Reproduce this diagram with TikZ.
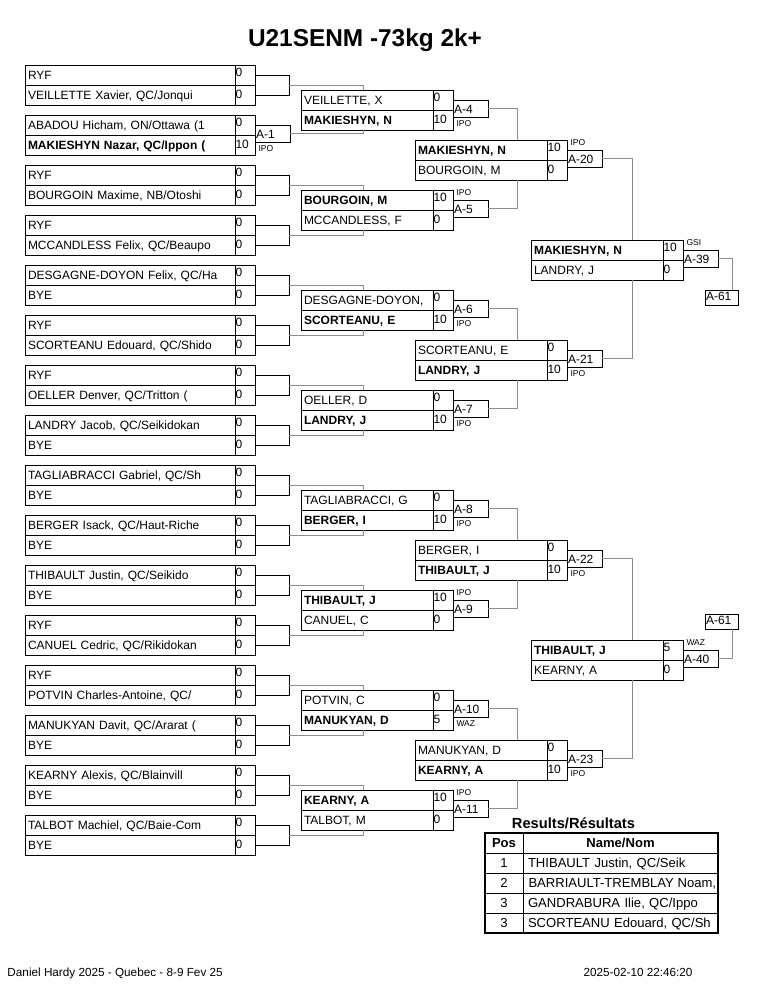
\documentclass[tikz,border=0pt]{standalone}
\usepackage{fontspec}
\setmainfont{Liberation Sans}
\usetikzlibrary{calc,shadows}
\definecolor{conncol}{HTML}{8C8C8C}
\definecolor{shadcol}{HTML}{A8A8A8}
\newcommand\fN{\fontsize{9}{10}\selectfont}
\newcommand\fR{\fontsize{6.4}{7}\selectfont}
\newcommand\fT{\fontsize{9.8}{11}\selectfont}
\newcommand\fF{\fontsize{8.8}{10}\selectfont}
% id, x, y, text width, nameA, scoreA, nameB, scoreB
\newcommand\bxMatch[8]{%
  \node[namecell, text width=#4] (n#1a) at (#2,#3) {#5};
  \node[scorea] (s#1a) at (n#1a.north east) {#6};
  \node[namecell, text width=#4] (n#1b) at (n#1a.south west) {#7};
  \node[scoreb] (s#1b) at (n#1b.north east) {#8};
}
\newcommand\bxBrk[1]{%
  \draw[brk] (s#1a.east) -- ++(34,0) |- (s#1b.east);
  \coordinate (B#1) at ($(s#1a.south east)+(34,0)$);
}
\newcommand\bxLblT[3]{%
  \node[lblbox] (L#1) at ([yshift=7.125pt]s#1a.south east) {#2};
  \node[restxt] (R#1) at ([xshift=2.25pt,yshift=3.75pt]L#1.north west) {#3};
}
\newcommand\bxLblB[3]{%
  \node[lblbox] (L#1) at ([yshift=7.125pt]s#1a.south east) {#2};
  \node[restxt] (R#1) at ([xshift=2.25pt,yshift=-7.3pt]L#1.south west) {#3};
}
\newcommand\bxLinkT[3]{\draw[conn] (#1) -| ($(n#2a.north west)+(#3,0)$);}
\newcommand\bxLinkB[3]{\draw[conn] (#1) -| ($(n#2b.south west)+(#3,0)$);}
\begin{document}
\begin{tikzpicture}[x=0.75pt,y=-0.75pt,
  line width=0.75pt,
  namecell/.style={draw, rectangle, anchor=north west, inner xsep=2.25pt, inner ysep=0pt, outer sep=0pt, align=left, text height=10.875pt, text depth=4.125pt, font=\fN},
  scorea/.style={draw, rectangle, anchor=north west, inner xsep=0.375pt, inner ysep=0pt, outer sep=0pt, text width=14.25pt, align=left, text height=8.25pt, text depth=6.75pt, font=\fN},
  scoreb/.style={scorea, text height=10.125pt, text depth=4.875pt},
  lblbox/.style={draw, fill=white, rectangle, anchor=north west, inner xsep=0.75pt, inner ysep=0pt, outer sep=0pt, text width=24.75pt, align=left, text height=9.5pt, text depth=2.875pt, font=\fN, drop shadow={shadow xshift=1.1pt, shadow yshift=-1.1pt, fill=shadcol, opacity=1}},
  finbox/.style={lblbox, text width=23.25pt, text height=8pt, text depth=3.25pt},
  restxt/.style={anchor=base west, inner sep=0pt, font=\fR},
  brk/.style={draw=black, line width=0.75pt},
  conn/.style={draw=conncol, line width=0.75pt},
  tpos/.style={draw, rectangle, anchor=north west, inner xsep=0pt, inner ysep=0pt, outer sep=0pt, text width=28.5pt, align=center, text height=10.875pt, text depth=4.125pt, font=\fT},
  tname/.style={draw, rectangle, anchor=north west, inner xsep=3.75pt, inner ysep=0pt, outer sep=0pt, text width=138.75pt, align=left, text height=10.875pt, text depth=4.125pt, font=\fT}
]
\useasboundingbox (0,0) rectangle (765,990);

% Title
\node[anchor=base, inner sep=0pt, font=\fontsize{18.3}{20}\selectfont\bfseries] (title) at (365,46) {U21SENM -73kg 2k+};

% ---------- Column 1 ----------
\bxMatch{p0}{25}{65}{153pt}{RYF}{0}{VEILLETTE Xavier, QC/Jonqui}{0}
\bxMatch{p1}{25}{115}{153pt}{ABADOU Hicham, ON/Ottawa (1}{0}{\textbf{MAKIESHYN Nazar, QC/Ippon (}}{10}
\bxMatch{p2}{25}{165}{153pt}{RYF}{0}{BOURGOIN Maxime, NB/Otoshi}{0}
\bxMatch{p3}{25}{215}{153pt}{RYF}{0}{MCCANDLESS Felix, QC/Beaupo}{0}
\bxMatch{p4}{25}{265}{153pt}{DESGAGNE-DOYON Felix, QC/Ha}{0}{BYE}{0}
\bxMatch{p5}{25}{315}{153pt}{RYF}{0}{SCORTEANU Edouard, QC/Shido}{0}
\bxMatch{p6}{25}{365}{153pt}{RYF}{0}{OELLER Denver, QC/Tritton (}{0}
\bxMatch{p7}{25}{415}{153pt}{LANDRY Jacob, QC/Seikidokan}{0}{BYE}{0}
\bxMatch{p8}{25}{465}{153pt}{TAGLIABRACCI Gabriel, QC/Sh}{0}{BYE}{0}
\bxMatch{p9}{25}{515}{153pt}{BERGER Isack, QC/Haut-Riche}{0}{BYE}{0}
\bxMatch{p10}{25}{565}{153pt}{THIBAULT Justin, QC/Seikido}{0}{BYE}{0}
\bxMatch{p11}{25}{615}{153pt}{RYF}{0}{CANUEL Cedric, QC/Rikidokan}{0}
\bxMatch{p12}{25}{665}{153pt}{RYF}{0}{POTVIN Charles-Antoine, QC/}{0}
\bxMatch{p13}{25}{715}{153pt}{MANUKYAN Davit, QC/Ararat (}{0}{BYE}{0}
\bxMatch{p14}{25}{765}{153pt}{KEARNY Alexis, QC/Blainvill}{0}{BYE}{0}
\bxMatch{p15}{25}{815}{153pt}{TALBOT Machiel, QC/Baie-Com}{0}{BYE}{0}

\bxBrk{p0}
\bxLblB{p1}{A-1}{IPO}
\bxBrk{p2}\bxBrk{p3}\bxBrk{p4}\bxBrk{p5}\bxBrk{p6}\bxBrk{p7}
\bxBrk{p8}\bxBrk{p9}\bxBrk{p10}\bxBrk{p11}\bxBrk{p12}\bxBrk{p13}\bxBrk{p14}\bxBrk{p15}

% ---------- Column 2 ----------
\bxMatch{q0}{301}{90}{94.5pt}{VEILLETTE, X}{0}{\textbf{MAKIESHYN, N}}{10}
\bxMatch{q1}{301}{190}{94.5pt}{\textbf{BOURGOIN, M}}{10}{MCCANDLESS, F}{0}
\bxMatch{q2}{301}{290}{94.5pt}{DESGAGNE-DOYON,}{0}{\textbf{SCORTEANU, E}}{10}
\bxMatch{q3}{301}{390}{94.5pt}{OELLER, D}{0}{\textbf{LANDRY, J}}{10}
\bxMatch{q4}{301}{490}{94.5pt}{TAGLIABRACCI, G}{0}{\textbf{BERGER, I}}{10}
\bxMatch{q5}{301}{590}{94.5pt}{\textbf{THIBAULT, J}}{10}{CANUEL, C}{0}
\bxMatch{q6}{301}{690}{94.5pt}{POTVIN, C}{0}{\textbf{MANUKYAN, D}}{5}
\bxMatch{q7}{301}{790}{94.5pt}{\textbf{KEARNY, A}}{10}{TALBOT, M}{0}

\bxLblB{q0}{A-4}{IPO}
\bxLblT{q1}{A-5}{IPO}
\bxLblB{q2}{A-6}{IPO}
\bxLblB{q3}{A-7}{IPO}
\bxLblB{q4}{A-8}{IPO}
\bxLblT{q5}{A-9}{IPO}
\bxLblB{q6}{A-10}{WAZ}
\bxLblT{q7}{A-11}{IPO}

% ---------- Column 3 ----------
\bxMatch{r0}{415}{140}{94.5pt}{\textbf{MAKIESHYN, N}}{10}{BOURGOIN, M}{0}
\bxMatch{r1}{415}{340}{94.5pt}{SCORTEANU, E}{0}{\textbf{LANDRY, J}}{10}
\bxMatch{r2}{415}{540}{94.5pt}{BERGER, I}{0}{\textbf{THIBAULT, J}}{10}
\bxMatch{r3}{415}{740}{94.5pt}{MANUKYAN, D}{0}{\textbf{KEARNY, A}}{10}

\bxLblT{r0}{A-20}{IPO}
\bxLblB{r1}{A-21}{IPO}
\bxLblB{r2}{A-22}{IPO}
\bxLblB{r3}{A-23}{IPO}

% ---------- Column 4 ----------
\bxMatch{f0}{531}{240}{94.5pt}{\textbf{MAKIESHYN, N}}{10}{LANDRY, J}{0}
\bxMatch{f1}{531}{640}{94.5pt}{\textbf{THIBAULT, J}}{5}{KEARNY, A}{0}

\bxLblT{f0}{A-39}{GSI}
\bxLblT{f1}{A-40}{WAZ}

% Final boxes
\node[finbox] (Ftop) at (705,290) {A-61};
\node[finbox] (Fbot) at (705,614) {A-61};

% ---------- Connectors ----------
\bxLinkT{Bp0}{q0}{62}
\bxLinkB{Lp1.east}{q0}{62}
\bxLinkT{Bp2}{q1}{62}
\bxLinkB{Bp3}{q1}{62}
\bxLinkT{Bp4}{q2}{62}
\bxLinkB{Bp5}{q2}{62}
\bxLinkT{Bp6}{q3}{62}
\bxLinkB{Bp7}{q3}{62}
\bxLinkT{Bp8}{q4}{62}
\bxLinkB{Bp9}{q4}{62}
\bxLinkT{Bp10}{q5}{62}
\bxLinkB{Bp11}{q5}{62}
\bxLinkT{Bp12}{q6}{62}
\bxLinkB{Bp13}{q6}{62}
\bxLinkT{Bp14}{q7}{62}
\bxLinkB{Bp15}{q7}{62}

\bxLinkT{Lq0.east}{r0}{102}
\bxLinkB{Lq1.east}{r0}{102}
\bxLinkT{Lq2.east}{r1}{102}
\bxLinkB{Lq3.east}{r1}{102}
\bxLinkT{Lq4.east}{r2}{102}
\bxLinkB{Lq5.east}{r2}{102}
\bxLinkT{Lq6.east}{r3}{102}
\bxLinkB{Lq7.east}{r3}{102}

\bxLinkT{Lr0.east}{f0}{101}
\bxLinkB{Lr1.east}{f0}{101}
\bxLinkT{Lr2.east}{f1}{101}
\bxLinkB{Lr3.east}{f1}{101}

\draw[conn] (Lf0.east) -| ($(Ftop.north west)+(27,0)$);
\draw[conn] (Lf1.east) -| ($(Fbot.south west)+(27,0)$);

% ---------- Results table ----------
\node[anchor=base, inner sep=0pt, font=\fontsize{11}{12}\selectfont\bfseries] (rescap) at (573.5,828) {Results/Résultats};
\node[tpos, font=\fT\bfseries] (th1) at (485,833) {Pos};
\node[tname, align=center, font=\fT\bfseries] (th2) at (th1.north east) {Name/Nom};
\node[tpos] (tp1) at (th1.south west) {1};
\node[tname] (tn1) at (tp1.north east) {\mbox{THIBAULT Justin, QC/Seik}};
\node[tpos] (tp2) at (tp1.south west) {2};
\node[tname] (tn2) at (tp2.north east) {};
\begin{scope}
  \clip (tn2.north west) rectangle (tn2.south east);
  \node[anchor=base west, inner sep=0pt, font=\fT] (tt2) at ($(tn2.north west)+(5,14.5)$) {BARRIAULT-TREMBLAY Noam,};
\end{scope}
\node[tpos] (tp3) at (tp2.south west) {3};
\node[tname] (tn3) at (tp3.north east) {\mbox{GANDRABURA Ilie, QC/Ippo}};
\node[tpos] (tp4) at (tp3.south west) {3};
\node[tname] (tn4) at (tp4.north east) {\mbox{SCORTEANU Edouard, QC/Sh}};
\draw[line width=1.125pt] (th1.north west) rectangle (tn4.south east);

% ---------- Footer ----------
\node[anchor=base west, inner sep=0pt, font=\fF] (ft1) at (7,976) {Daniel Hardy 2025 - Quebec - 8-9 Fev 25};
\node[anchor=base east, inner sep=0pt, font=\fF] (ft2) at (693,976) {2025-02-10 22:46:20};
\end{tikzpicture}
\end{document}
